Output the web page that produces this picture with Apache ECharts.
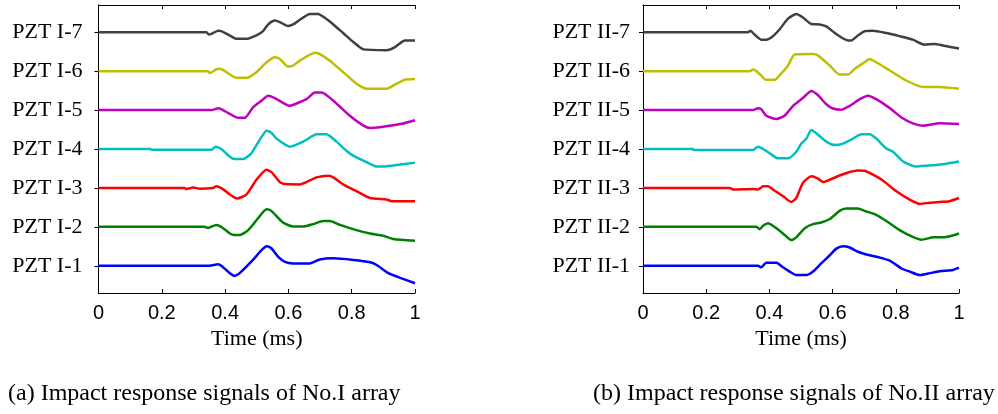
<!DOCTYPE html>
<html>
<head>
<meta charset="utf-8">
<script src="https://cdn.jsdelivr.net/npm/echarts@6/dist/echarts.min.js"></script>
<style>html,body{margin:0;padding:0;background:#fff}#c{width:998px;height:414px}</style>
</head>
<body>
<div id="c"></div>
<script>
const timeTicks = [0, 0.2, 0.4, 0.6, 0.8, 1];
const rowValues = [1, 2, 3, 4, 5, 6, 7];
const labelsI = ['PZT I-1','PZT I-2','PZT I-3','PZT I-4','PZT I-5','PZT I-6','PZT I-7'];
const labelsII = ['PZT II-1','PZT II-2','PZT II-3','PZT II-4','PZT II-5','PZT II-6','PZT II-7'];
const colors = ['#0000ff','#008000','#ff0000','#00bfbf','#bf00bf','#bfbf00','#404040'];
const captionA = '(a) Impact response signals of No.I array';
const captionB = '(b) Impact response signals of No.II array';

// [time (ms), offset from row baseline]
const I1 = [[0,0],[0.351,0],[0.378,0.04],[0.388,0],[0.415,-0.19],[0.430,-0.26],[0.446,-0.19],[0.488,0.15],[0.515,0.40],[0.531,0.50],[0.546,0.45],[0.568,0.23],[0.589,0.10],[0.615,0.06],[0.668,0.06],[0.699,0.16],[0.742,0.19],[0.805,0.15],[0.858,0.09],[0.879,0.02],[0.916,-0.19],[0.953,-0.31],[1,-0.45]];
const I2 = [[0,0],[0.335,0],[0.346,-0.03],[0.372,0.05],[0.388,0],[0.415,-0.17],[0.430,-0.21],[0.446,-0.21],[0.473,-0.085],[0.504,0.22],[0.531,0.45],[0.546,0.41],[0.583,0.11],[0.615,0.01],[0.647,0.01],[0.678,0.07],[0.710,0.15],[0.731,0.15],[0.763,0.05],[0.815,-0.085],[0.858,-0.17],[0.900,-0.23],[0.931,-0.31],[1,-0.36]];
const I3 = [[0,0],[0.272,0],[0.277,-0.03],[0.300,0.01],[0.320,-0.02],[0.362,0.0],[0.372,0.04],[0.393,-0.03],[0.415,-0.17],[0.438,-0.27],[0.467,-0.17],[0.499,0.21],[0.531,0.47],[0.546,0.41],[0.573,0.15],[0.589,0.10],[0.636,0.09],[0.657,0.15],[0.689,0.27],[0.726,0.31],[0.742,0.27],[0.773,0.09],[0.815,-0.085],[0.858,-0.26],[0.910,-0.30],[0.926,-0.34],[1,-0.34]];
const I4 = [[0,0],[0.165,0],[0.168,-0.02],[0.357,-0.02],[0.370,0.06],[0.388,0],[0.415,-0.2],[0.430,-0.26],[0.457,-0.26],[0.483,-0.11],[0.499,0.1],[0.515,0.31],[0.531,0.47],[0.546,0.42],[0.562,0.27],[0.604,0.06],[0.647,0.19],[0.689,0.38],[0.720,0.38],[0.752,0.19],[0.784,-0.05],[0.805,-0.17],[0.858,-0.38],[0.879,-0.45],[0.900,-0.45],[0.953,-0.40],[1,-0.35]];
const I5 = [[0,0],[0.357,0],[0.378,0.05],[0.388,0.026],[0.415,-0.1],[0.441,-0.2],[0.462,-0.2],[0.488,0.07],[0.515,0.24],[0.536,0.37],[0.557,0.31],[0.604,0.11],[0.620,0.15],[0.657,0.28],[0.684,0.45],[0.705,0.45],[0.742,0.24],[0.794,-0.145],[0.837,-0.40],[0.858,-0.46],[0.889,-0.44],[0.953,-0.36],[1,-0.26]];
const I6 = [[0,0],[0.346,0],[0.351,-0.05],[0.378,0.06],[0.393,0.034],[0.425,-0.136],[0.436,-0.17],[0.467,-0.17],[0.499,-0.026],[0.531,0.23],[0.557,0.36],[0.573,0.315],[0.599,0.12],[0.615,0.145],[0.636,0.27],[0.684,0.47],[0.699,0.44],[0.731,0.27],[0.773,-0.026],[0.815,-0.32],[0.847,-0.45],[0.910,-0.45],[0.942,-0.32],[0.968,-0.22],[1,-0.2]];
const I7 = [[0,0],[0.341,0],[0.349,-0.06],[0.362,-0.02],[0.378,0.04],[0.388,0.03],[0.415,-0.085],[0.436,-0.17],[0.467,-0.17],[0.499,-0.08],[0.520,0.03],[0.536,0.2],[0.557,0.30],[0.573,0.26],[0.599,0.16],[0.615,0.2],[0.636,0.32],[0.668,0.47],[0.694,0.47],[0.715,0.37],[0.742,0.2],[0.773,-0.02],[0.805,-0.25],[0.837,-0.44],[0.910,-0.46],[0.937,-0.38],[0.968,-0.21],[1,-0.21]];

const II1 = [[0,0],[0.364,0],[0.374,-0.04],[0.390,0.077],[0.422,0.077],[0.443,-0.04],[0.464,-0.15],[0.485,-0.24],[0.517,-0.24],[0.538,-0.15],[0.564,0.06],[0.591,0.27],[0.612,0.44],[0.633,0.5],[0.654,0.47],[0.680,0.36],[0.707,0.29],[0.749,0.21],[0.781,0.13],[0.818,-0.07],[0.844,-0.15],[0.876,-0.24],[0.902,-0.2],[0.939,-0.14],[0.981,-0.11],[1,-0.05]];
const II2 = [[0,0],[0.359,0],[0.369,-0.06],[0.380,0.026],[0.396,0.094],[0.411,0.026],[0.443,-0.17],[0.469,-0.34],[0.485,-0.27],[0.512,-0.034],[0.538,0.07],[0.564,0.11],[0.591,0.2],[0.622,0.41],[0.643,0.47],[0.680,0.47],[0.701,0.41],[0.738,0.31],[0.770,0.15],[0.812,-0.085],[0.854,-0.26],[0.881,-0.33],[0.918,-0.27],[0.960,-0.26],[1,-0.17]];
const II3 = [[0,0],[0.274,0],[0.285,-0.04],[0.348,-0.026],[0.364,-0.04],[0.380,0.04],[0.396,0.04],[0.411,-0.04],[0.443,-0.21],[0.469,-0.36],[0.485,-0.26],[0.506,0.13],[0.533,0.3],[0.554,0.24],[0.570,0.15],[0.591,0.21],[0.622,0.32],[0.654,0.41],[0.680,0.45],[0.701,0.44],[0.728,0.34],[0.759,0.19],[0.802,-0.085],[0.844,-0.3],[0.876,-0.41],[0.907,-0.38],[0.939,-0.36],[0.970,-0.34],[1,-0.26]];
const II4 = [[0,0],[0.158,0],[0.160,-0.026],[0.348,-0.026],[0.364,0.06],[0.380,0],[0.401,-0.11],[0.427,-0.24],[0.459,-0.24],[0.485,-0.07],[0.501,0.14],[0.517,0.27],[0.533,0.49],[0.549,0.4],[0.580,0.19],[0.607,0.1],[0.633,0.14],[0.665,0.27],[0.691,0.38],[0.717,0.38],[0.738,0.27],[0.770,0.015],[0.791,-0.07],[0.823,-0.32],[0.865,-0.45],[0.897,-0.43],[0.949,-0.39],[1,-0.32]];
const II5 = [[0,0],[0.348,0],[0.364,0.05],[0.374,0.026],[0.390,-0.145],[0.422,-0.23],[0.448,-0.145],[0.475,0.11],[0.506,0.31],[0.533,0.49],[0.554,0.38],[0.580,0.15],[0.601,0.04],[0.628,0.01],[0.654,0.11],[0.686,0.28],[0.712,0.37],[0.738,0.28],[0.781,0.05],[0.818,-0.19],[0.854,-0.34],[0.886,-0.4],[0.939,-0.34],[1,-0.36]];
const II6 = [[0,0],[0.338,0],[0.348,0.04],[0.359,0],[0.374,-0.11],[0.388,-0.22],[0.417,-0.22],[0.432,-0.11],[0.459,0.145],[0.480,0.43],[0.538,0.44],[0.554,0.4],[0.591,0.145],[0.622,-0.085],[0.649,-0.085],[0.670,0.06],[0.696,0.2],[0.717,0.315],[0.738,0.23],[0.781,0.017],[0.833,-0.24],[0.886,-0.41],[0.939,-0.41],[1,-0.45]];
const II7 = [[0,0],[0.332,0],[0.34,0.04],[0.353,-0.06],[0.374,-0.19],[0.390,-0.19],[0.411,-0.1],[0.432,0.07],[0.459,0.35],[0.485,0.47],[0.506,0.38],[0.533,0.21],[0.559,0.2],[0.580,0.15],[0.607,-0.02],[0.633,-0.16],[0.649,-0.21],[0.659,-0.21],[0.680,-0.085],[0.701,0.026],[0.728,0.04],[0.770,-0.02],[0.812,-0.1],[0.854,-0.19],[0.891,-0.32],[0.923,-0.3],[0.949,-0.34],[1,-0.42]];

const tracesI = [I1, I2, I3, I4, I5, I6, I7];
const tracesII = [II1, II2, II3, II4, II5, II6, II7];

const chart = echarts.init(document.getElementById('c'), null, {renderer: 'canvas'});
const serif = '"Liberation Serif", "Times New Roman", serif';
const sans = '"Liberation Sans", Arial, sans-serif';
const axisLine = {show: true, lineStyle: {color: '#000', width: 1}};

function xAxes(gi) {
  return [
    {gridIndex: gi, type: 'value', position: 'bottom', min: 0, max: 1, interval: 0.2,
     axisLine, splitLine: {show: false},
     axisTick: {inside: true, length: 4, lineStyle: {color: '#000'}},
     axisLabel: {fontFamily: sans, fontSize: 20, color: '#000', margin: 10},
     name: 'Time (ms)', nameLocation: 'middle', nameGap: 26,
     nameTextStyle: {fontFamily: serif, fontSize: 22, color: '#000'}},
    {gridIndex: gi, type: 'value', position: 'top', min: 0, max: 1, interval: 0.2,
     axisLine, splitLine: {show: false},
     axisTick: {inside: true, length: 4, lineStyle: {color: '#000'}},
     axisLabel: {show: false}}
  ];
}
function yAxes(gi, labels, margin) {
  return [
    {gridIndex: gi, type: 'value', position: 'left', min: 0.3, max: 7.7,
     axisLine, splitLine: {show: false},
     axisTick: {inside: true, length: 4, customValues: rowValues, lineStyle: {color: '#000'}},
     axisLabel: {customValues: rowValues, fontFamily: serif, fontSize: 22, color: '#000', margin: margin,
       formatter: v => labels[Math.round(v) - 1]}},
    {gridIndex: gi, type: 'value', position: 'right', min: 0.3, max: 7.7,
     axisLine, splitLine: {show: false},
     axisTick: {inside: true, length: 4, customValues: rowValues, lineStyle: {color: '#000'}},
     axisLabel: {show: false}}
  ];
}

const series = [];
[tracesI, tracesII].forEach((traces, gi) => {
  traces.forEach((tr, k) => {
    series.push({
      type: 'line', xAxisIndex: gi * 2, yAxisIndex: gi * 2,
      data: tr.map(p => [p[0], k + 1 + p[1]]),
      showSymbol: false, symbol: 'none', smooth: 0.2,
      lineStyle: {color: colors[k], width: 2.5},
      animation: false, clip: true
    });
  });
});

chart.setOption({
  backgroundColor: '#fff',
  animation: false,
  grid: [
    {left: 98.5, top: 5, width: 316.5, height: 288},
    {left: 643, top: 5, width: 316, height: 288}
  ],
  xAxis: [...xAxes(0), ...xAxes(1)],
  yAxis: [...yAxes(0, labelsI, 16), ...yAxes(1, labelsII, 13)],
  series,
  graphic: [
    {type: 'text', left: 8, top: 382, style: {text: captionA, font: '24px ' + serif, fill: '#000'}},
    {type: 'text', left: 593, top: 382, style: {text: captionB, font: '24px ' + serif, fill: '#000'}}
  ]
});
</script>
</body>
</html>
